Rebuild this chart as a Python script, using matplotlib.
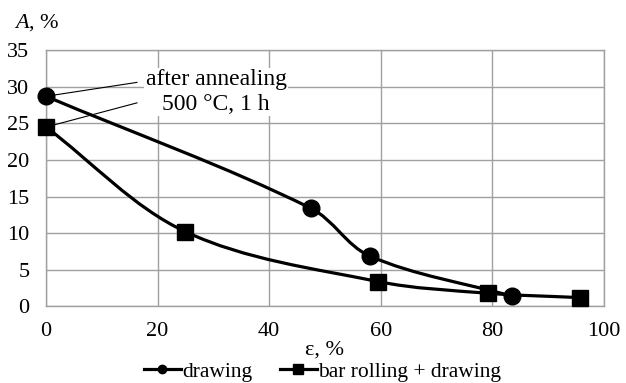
import numpy as np
import matplotlib
matplotlib.use("Agg")
import matplotlib.pyplot as plt
from matplotlib.path import Path
from matplotlib.patches import PathPatch

plt.rcParams['font.family'] = ['Liberation Serif', 'DejaVu Serif']
plt.rcParams['mathtext.fontset'] = 'custom'
plt.rcParams['mathtext.it'] = 'Liberation Serif:italic'
plt.rcParams['mathtext.rm'] = 'Liberation Serif'

# drawing
draw_x = [0, 47.5, 58, 83.5]
draw_y = [28.7, 13.4, 6.9, 1.4]
# bar rolling + drawing
roll_x = [0, 25, 59.5, 79.2, 95.7]
roll_y = [24.5, 10.2, 3.4, 1.8, 1.2]

labels = ["drawing", "bar rolling + drawing"]


def smooth_path(ax, xs, ys):
    # smoothed line: cubic Bezier segments, tangents worked out in screen space
    pts = ax.transData.transform(np.column_stack([xs, ys]))
    n = len(pts)
    tang = []
    for i in range(n):
        a = pts[max(i - 1, 0)]
        b = pts[min(i + 1, n - 1)]
        d = b - a
        tang.append(d / np.hypot(*d))
    verts = [pts[0]]
    codes = [Path.MOVETO]
    for i in range(n - 1):
        L = np.hypot(*(pts[i + 1] - pts[i]))
        verts += [pts[i] + tang[i] * L / 3, pts[i + 1] - tang[i + 1] * L / 3,
                  pts[i + 1]]
        codes += [Path.CURVE4] * 3
    verts = ax.transData.inverted().transform(np.array(verts))
    return Path(verts, codes)


fig = plt.figure(figsize=(6.26, 3.83), dpi=100)
ax = fig.add_axes([0.0735, 0.2, 0.891, 0.669])
ax.set_xlim(0, 100)
ax.set_ylim(0, 35)

for xs, ys, m in [(draw_x, draw_y, 'o'), (roll_x, roll_y, 's')]:
    ax.add_patch(PathPatch(smooth_path(ax, xs, ys), facecolor='none',
                           edgecolor='black', lw=2.3, zorder=3))
    ax.plot(xs, ys, linestyle='none', marker=m, color='black',
            markersize=12, zorder=4, clip_on=False)

# legend handles
h1, = ax.plot([], [], color='black', lw=2.3, marker='o', markersize=6)
h2, = ax.plot([], [], color='black', lw=2.3, marker='s', markersize=6.5)

ax.set_xticks(np.arange(0, 101, 20))
ax.set_yticks(np.arange(0, 36, 5))
ax.grid(True, color='#a0a0a0', lw=1.0)
ax.set_axisbelow(True)
for s in ax.spines.values():
    s.set_color('#a0a0a0')
    s.set_linewidth(1.0)
ax.tick_params(length=0, labelsize=16)
ax.tick_params(axis='y', pad=12)
ax.tick_params(axis='x', pad=11)

ax.text(30.5, 29.3, "after annealing\n500 °C, 1 h", ha='center', va='center',
        fontsize=17, linespacing=1.2,
        bbox=dict(facecolor='white', edgecolor='none', pad=1), zorder=2.5)
ax.plot([draw_x[0], 16.3], [draw_y[0], 30.6], color='black', lw=0.8, zorder=2.6)
ax.plot([roll_x[0], 16.3], [roll_y[0], 27.8], color='black', lw=0.8, zorder=2.6)

fig.text(0.022, 0.942, r"$\mathit{A}$, %", fontsize=16, ha='left', va='center')
ax.set_xlabel("ε, %", fontsize=16, labelpad=0)

fig.legend([h1, h2], labels, loc='center', bbox_to_anchor=(0.515, 0.03),
           ncol=2, frameon=False, fontsize=15.5, handlelength=1.7,
           handletextpad=0.05, columnspacing=1.3, borderaxespad=0)

fig.savefig("out.png", dpi=100)
